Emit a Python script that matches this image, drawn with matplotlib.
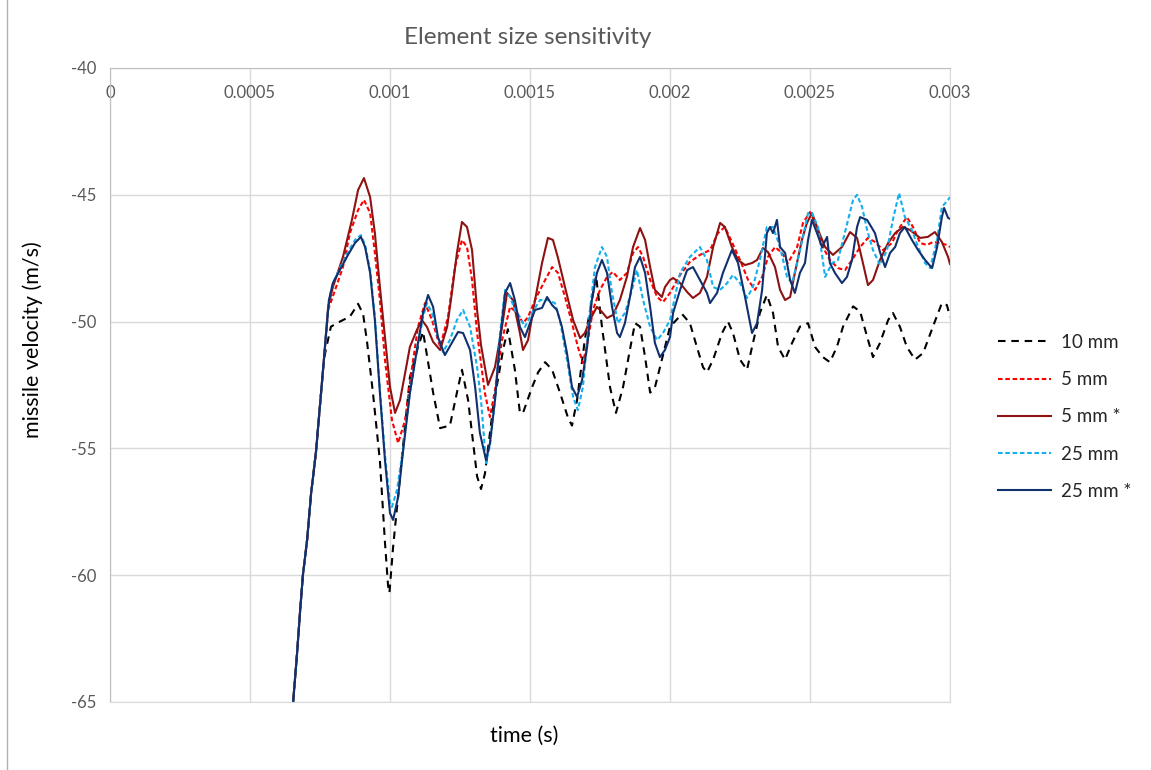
import numpy as np
import matplotlib.pyplot as plt
from matplotlib.lines import Line2D

plt.rcParams['font.family'] = ['Lato', 'DejaVu Sans']
plt.rcParams['axes.unicode_minus'] = False

# time in ms, velocity in m/s
# all five runs share the same initial rise
rise = [(0.654, -65.0), (0.668, -63.1), (0.679, -61.4), (0.689, -60.0), (0.704, -58.6),
        (0.718, -56.8), (0.736, -55.1), (0.750, -53.3), (0.764, -51.5)]

mm10 = [(0.771, -51.1), (0.789, -50.2), (0.821, -50.0), (0.857, -49.8), (0.886, -49.3),
        (0.904, -49.7), (0.918, -50.8), (0.939, -52.8), (0.964, -55.5), (0.982, -58.7),
        (0.993, -60.4), (0.998, -60.7), (1.011, -58.9), (1.036, -56.1), (1.071, -52.2),
        (1.100, -51.0), (1.118, -50.4), (1.154, -52.8), (1.179, -54.2), (1.214, -54.1),
        (1.239, -52.8), (1.257, -51.9), (1.279, -53.1), (1.311, -56.1), (1.325, -56.6),
        (1.339, -56.0), (1.368, -53.4), (1.404, -51.1), (1.421, -50.3), (1.446, -51.9),
        (1.464, -53.6), (1.475, -53.6), (1.507, -52.6), (1.529, -52.0), (1.554, -51.6),
        (1.579, -51.9), (1.607, -52.8), (1.636, -53.8), (1.650, -54.1), (1.668, -53.1),
        (1.696, -50.7), (1.721, -49.15), (1.736, -48.2), (1.757, -50.2), (1.786, -52.6),
        (1.807, -53.6), (1.832, -52.6), (1.857, -51.1), (1.875, -50.06), (1.893, -50.2),
        (1.911, -51.4), (1.929, -52.8), (1.946, -52.6), (1.971, -51.5), (2.000, -50.2),
        (2.043, -49.7), (2.071, -50.06), (2.096, -51.0), (2.118, -51.8), (2.132, -52.0),
        (2.154, -51.5), (2.186, -50.45), (2.207, -50.0), (2.225, -50.45), (2.250, -51.5),
        (2.275, -51.9), (2.293, -51.0), (2.321, -49.66), (2.346, -48.95), (2.368, -49.66),
        (2.386, -51.0), (2.411, -51.5), (2.436, -50.84), (2.464, -50.2), (2.493, -50.06),
        (2.518, -51.0), (2.546, -51.4), (2.571, -51.6), (2.596, -51.0), (2.618, -50.2),
        (2.654, -49.4), (2.679, -49.6), (2.704, -50.6), (2.725, -51.4), (2.750, -50.84),
        (2.779, -49.94), (2.796, -49.66), (2.821, -50.2), (2.846, -51.0), (2.875, -51.5),
        (2.904, -51.24), (2.939, -50.2), (2.971, -49.27), (2.989, -49.35), (3.000, -49.82)]

mm5 = [(0.779, -49.54), (0.804, -48.75), (0.832, -47.85), (0.857, -46.51), (0.886, -45.6),
       (0.907, -45.2), (0.929, -45.72), (0.946, -47.29), (0.964, -49.15), (0.982, -51.51),
       (1.007, -53.88), (1.029, -54.79), (1.054, -53.88), (1.079, -51.79), (1.100, -50.21),
       (1.125, -49.27), (1.150, -49.94), (1.179, -51.0), (1.207, -49.82), (1.232, -47.85),
       (1.257, -46.78), (1.275, -47.06), (1.293, -48.36), (1.311, -50.45), (1.339, -52.82),
       (1.357, -53.76), (1.375, -52.7), (1.400, -50.73), (1.429, -49.42), (1.454, -49.66),
       (1.475, -50.06), (1.493, -49.82), (1.518, -49.15), (1.554, -48.36), (1.579, -47.85),
       (1.600, -48.08), (1.625, -49.03), (1.650, -50.06), (1.671, -51.0), (1.689, -51.63),
       (1.707, -50.73), (1.725, -49.54), (1.750, -48.75), (1.775, -48.24), (1.796, -48.04),
       (1.821, -48.36), (1.846, -48.08), (1.868, -47.29), (1.886, -47.06), (1.904, -47.45),
       (1.929, -48.36), (1.954, -49.03), (1.975, -49.23), (2.000, -48.87), (2.036, -48.16),
       (2.071, -47.65), (2.107, -47.37), (2.143, -47.18), (2.171, -46.51), (2.196, -46.27),
       (2.221, -46.86), (2.250, -47.57), (2.279, -48.36), (2.304, -48.75), (2.329, -48.24),
       (2.350, -47.45), (2.375, -47.06), (2.400, -47.29), (2.421, -47.69), (2.454, -47.06),
       (2.475, -46.11), (2.500, -45.68), (2.525, -46.27), (2.546, -47.06), (2.571, -47.57),
       (2.600, -47.89), (2.625, -47.97), (2.650, -47.57), (2.679, -47.06), (2.707, -46.7),
       (2.732, -46.86), (2.761, -47.18), (2.793, -46.9), (2.814, -46.39), (2.846, -45.88),
       (2.868, -46.27), (2.893, -46.9), (2.918, -46.98), (2.939, -46.86), (2.964, -46.9),
       (2.989, -46.98), (3.000, -47.06)]

mm5_star = [(0.779, -49.42), (0.796, -48.64), (0.832, -47.45), (0.864, -45.99), (0.886, -44.81),
            (0.907, -44.34), (0.929, -45.09), (0.946, -46.51), (0.964, -48.64), (0.982, -50.61),
            (1.000, -52.58), (1.018, -53.6), (1.036, -53.09), (1.054, -52.03), (1.071, -51.0),
            (1.096, -50.33), (1.114, -49.94), (1.132, -50.21), (1.154, -50.8), (1.179, -51.12),
            (1.204, -50.21), (1.221, -48.87), (1.239, -47.29), (1.257, -46.07), (1.275, -46.27),
            (1.293, -47.18), (1.311, -49.54), (1.325, -50.92), (1.350, -52.5), (1.375, -51.79),
            (1.400, -50.21), (1.418, -48.87), (1.439, -49.15), (1.464, -50.45), (1.475, -51.12),
            (1.493, -50.73), (1.518, -49.15), (1.543, -47.69), (1.564, -46.7), (1.582, -46.78),
            (1.600, -47.49), (1.625, -48.64), (1.654, -49.94), (1.679, -50.65), (1.696, -50.45),
            (1.714, -49.94), (1.739, -49.42), (1.757, -49.62), (1.775, -49.86), (1.796, -49.74),
            (1.821, -49.15), (1.846, -48.24), (1.868, -47.06), (1.893, -46.31), (1.911, -46.78),
            (1.929, -47.85), (1.946, -48.75), (1.971, -49.03), (1.982, -48.64), (2.000, -48.36),
            (2.011, -48.28), (2.036, -48.48), (2.061, -48.83), (2.082, -49.07), (2.107, -48.87),
            (2.132, -48.24), (2.154, -47.06), (2.179, -46.11), (2.196, -46.27), (2.221, -47.06),
            (2.243, -47.57), (2.268, -47.77), (2.293, -47.69), (2.311, -47.57), (2.332, -47.1),
            (2.350, -47.26), (2.375, -47.85), (2.393, -48.75), (2.411, -49.15), (2.429, -49.03),
            (2.446, -48.08), (2.471, -46.78), (2.489, -46.11), (2.507, -45.72), (2.529, -46.39),
            (2.554, -47.06), (2.582, -47.37), (2.614, -47.06), (2.643, -46.47), (2.668, -46.7),
            (2.689, -47.69), (2.707, -48.56), (2.725, -48.36), (2.750, -47.57), (2.779, -46.9),
            (2.804, -46.51), (2.832, -46.27), (2.857, -46.39), (2.893, -46.7), (2.921, -46.66),
            (2.946, -46.47), (2.971, -46.86), (2.993, -47.45), (3.000, -47.73)]

mm25 = [(0.782, -49.15), (0.796, -48.48), (0.821, -47.89), (0.850, -47.26), (0.875, -46.78),
        (0.896, -46.59), (0.911, -46.98), (0.929, -47.97), (0.946, -49.82), (0.964, -52.7),
        (0.982, -55.26), (1.000, -57.15), (1.007, -57.31), (1.025, -56.64), (1.046, -55.06),
        (1.071, -52.82), (1.096, -51.12), (1.118, -49.82), (1.132, -49.27), (1.150, -49.66),
        (1.171, -50.61), (1.189, -51.2), (1.214, -50.73), (1.239, -49.94), (1.261, -49.54),
        (1.286, -50.21), (1.311, -51.79), (1.325, -53.09), (1.343, -55.58), (1.357, -54.87),
        (1.375, -53.09), (1.393, -50.45), (1.411, -48.75), (1.429, -49.03), (1.446, -49.54),
        (1.464, -49.82), (1.482, -50.21), (1.507, -49.66), (1.536, -49.15), (1.564, -49.15),
        (1.589, -49.27), (1.607, -49.94), (1.632, -51.51), (1.654, -52.97), (1.671, -53.49),
        (1.689, -52.58), (1.714, -49.54), (1.732, -47.85), (1.757, -47.06), (1.775, -47.45),
        (1.793, -48.87), (1.814, -50.06), (1.839, -49.66), (1.864, -48.75), (1.882, -47.97),
        (1.904, -49.15), (1.929, -50.21), (1.954, -50.73), (1.975, -50.45), (2.000, -49.94),
        (2.036, -48.08), (2.071, -47.45), (2.107, -47.06), (2.132, -47.57), (2.154, -48.64),
        (2.179, -48.75), (2.204, -48.48), (2.225, -48.16), (2.250, -48.48), (2.275, -49.07),
        (2.296, -48.64), (2.321, -47.57), (2.346, -46.27), (2.368, -46.27), (2.393, -47.06),
        (2.418, -48.24), (2.436, -48.48), (2.454, -47.69), (2.475, -46.66), (2.493, -45.72),
        (2.507, -45.72), (2.529, -46.27), (2.554, -48.24), (2.579, -47.69), (2.600, -47.57),
        (2.618, -46.78), (2.636, -45.99), (2.654, -45.2), (2.668, -45.0), (2.686, -45.48),
        (2.704, -46.39), (2.725, -47.18), (2.750, -47.77), (2.775, -47.18), (2.796, -45.99),
        (2.818, -44.93), (2.839, -45.88), (2.864, -46.39), (2.886, -47.06), (2.911, -47.69),
        (2.929, -47.89), (2.954, -46.78), (2.971, -45.48), (2.993, -45.2), (3.000, -45.09)]

mm25_star = [(0.782, -49.15), (0.796, -48.48), (0.821, -47.97), (0.850, -47.37), (0.875, -46.9),
             (0.896, -46.66), (0.911, -47.06), (0.929, -48.08), (0.946, -49.94), (0.964, -52.82),
             (0.982, -55.46), (1.000, -57.55), (1.011, -57.82), (1.029, -56.92), (1.046, -55.18),
             (1.071, -52.82), (1.096, -51.12), (1.118, -49.66), (1.136, -48.95), (1.154, -49.42),
             (1.171, -50.61), (1.196, -51.32), (1.221, -50.84), (1.243, -50.41), (1.261, -50.45),
             (1.286, -51.12), (1.304, -52.58), (1.321, -54.39), (1.343, -55.46), (1.357, -54.79),
             (1.375, -53.09), (1.393, -50.73), (1.411, -48.87), (1.429, -48.48), (1.446, -49.15),
             (1.464, -50.21), (1.482, -50.61), (1.500, -50.06), (1.518, -49.54), (1.543, -49.46),
             (1.561, -49.03), (1.579, -49.35), (1.596, -49.54), (1.614, -50.21), (1.632, -51.24),
             (1.650, -52.58), (1.668, -52.97), (1.686, -52.3), (1.704, -51.0), (1.721, -49.15),
             (1.739, -48.08), (1.757, -47.57), (1.775, -48.08), (1.793, -49.42), (1.811, -50.45),
             (1.821, -50.61), (1.839, -50.06), (1.857, -49.03), (1.875, -47.85), (1.893, -47.45),
             (1.911, -48.08), (1.929, -49.42), (1.946, -50.84), (1.964, -51.4), (1.982, -51.12),
             (2.000, -50.61), (2.011, -49.66), (2.036, -48.75), (2.061, -47.97), (2.082, -47.85),
             (2.107, -48.36), (2.132, -48.87), (2.143, -49.27), (2.168, -48.87), (2.189, -48.08),
             (2.221, -47.18), (2.243, -47.69), (2.268, -49.03), (2.293, -50.45), (2.311, -50.06),
             (2.329, -48.75), (2.346, -46.51), (2.357, -46.27), (2.368, -46.51), (2.382, -45.99),
             (2.393, -47.06), (2.411, -47.29), (2.429, -48.36), (2.446, -48.87), (2.464, -48.08),
             (2.482, -47.69), (2.493, -46.78), (2.507, -45.99), (2.525, -46.51), (2.543, -47.06),
             (2.561, -46.66), (2.571, -47.69), (2.589, -48.08), (2.614, -48.48), (2.632, -48.24),
             (2.650, -47.57), (2.668, -46.27), (2.679, -45.88), (2.704, -45.99), (2.732, -46.51),
             (2.750, -47.26), (2.768, -47.85), (2.786, -47.29), (2.804, -47.06), (2.821, -46.51),
             (2.839, -46.27), (2.864, -46.78), (2.886, -47.18), (2.911, -47.57), (2.936, -47.89),
             (2.954, -47.06), (2.971, -45.88), (2.979, -45.52), (2.993, -45.91), (3.000, -45.95)]

labels = ['10 mm', '5 mm', '5 mm *', '25 mm', '25 mm *']
colors = ['black', '#ff0000', '#8e1212', '#12b0ee', '#10306e']
dash = [(3.6, 2.8), (2.2, 1.3), None, (2.2, 1.3), None]
series = [mm10, mm5, mm5_star, mm25, mm25_star]

fig = plt.figure(figsize=(11.51, 7.70), dpi=100)
ax = fig.add_axes([110 / 1151, 1 - 702 / 770, 840 / 1151, 634 / 770])

for data, lab, col, d in zip(series, labels, colors, dash):
    arr = np.array(rise + data)
    t = arr[:, 0] * 1e-3
    line, = ax.plot(t, arr[:, 1], color=col, lw=1.5, label=lab)
    if d is not None:
        line.set_dashes(d)

ax.set_xlim(0, 0.003)
ax.set_ylim(-65, -40)
ax.set_xticks([0, 0.0005, 0.001, 0.0015, 0.002, 0.0025, 0.003])
ax.set_xticklabels(['0', '0.0005', '0.001', '0.0015', '0.002', '0.0025', '0.003'])
ax.set_yticks([-40, -45, -50, -55, -60, -65])
ax.xaxis.set_ticks_position('top')
ax.tick_params(axis='x', length=0, pad=-24, labelsize=12, labelcolor='#595959')
ax.tick_params(axis='y', length=0, pad=10, labelsize=12, labelcolor='#595959')
ax.grid(True, color='#d9d9d9', lw=1)
ax.set_axisbelow(True)
ax.spines['left'].set_color('#bfbfbf')
ax.spines['top'].set_color('#bfbfbf')
ax.spines['bottom'].set_color('#d9d9d9')
ax.spines['right'].set_color('#d9d9d9')

fig.text(528 / 1151, 1 - 38 / 770, 'Element size sensitivity', ha='center', va='center',
         fontsize=17.5, color='#595959')
fig.text(524 / 1151, 1 - 736 / 770, 'time (s)', ha='center', va='center',
         fontsize=15.5, color='black')
fig.text(33 / 1151, 1 - 340 / 770, 'missile velocity (m/s)', ha='center', va='center',
         rotation=90, fontsize=15.5, color='black')

# chart area border on the left
fig.add_artist(Line2D([7 / 1151, 7 / 1151], [0, 1], color='#b0b0b0', lw=1))

leg = fig.legend(loc='center left', bbox_to_anchor=(998 / 1151, 1 - 417 / 770),
                 frameon=False, fontsize=13.5, handlelength=2.8, handletextpad=0.55,
                 labelspacing=1.08, borderpad=0, borderaxespad=0)
for txt in leg.get_texts():
    txt.set_color('#262626')

fig.savefig('out.png', dpi=100)
